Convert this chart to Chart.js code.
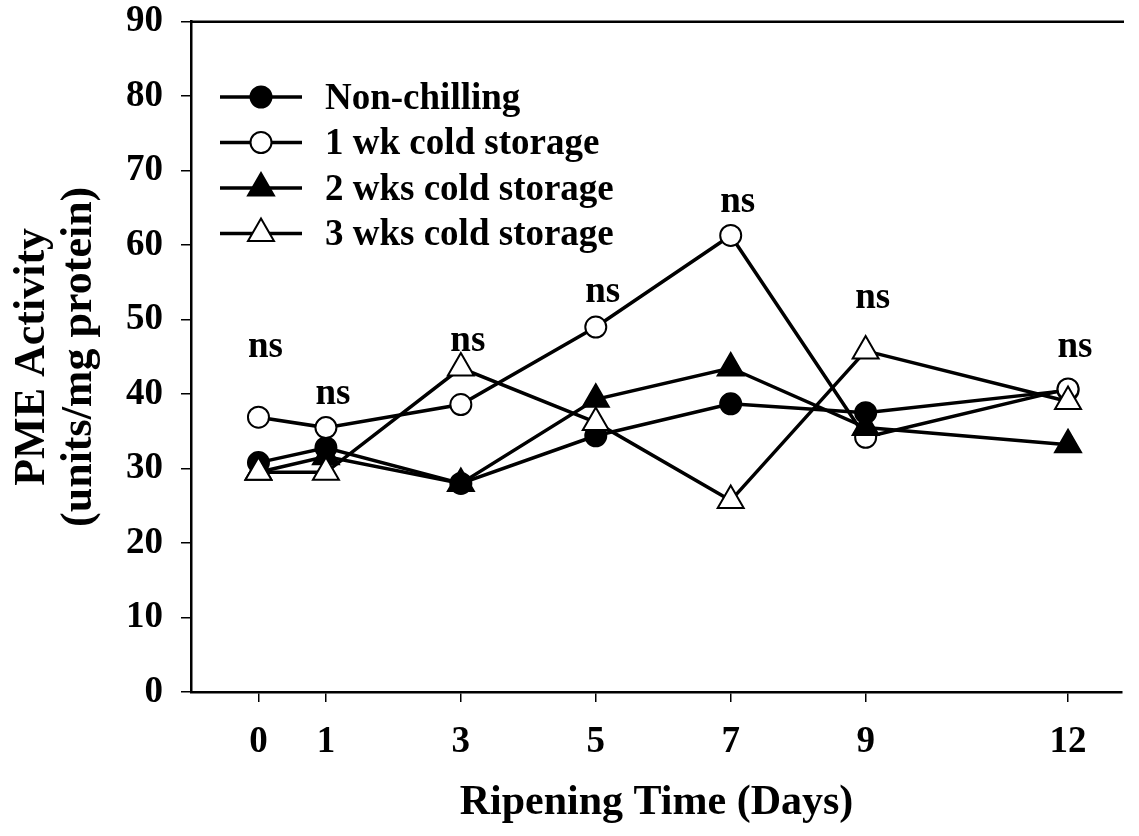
<!DOCTYPE html>
<html>
<head>
<meta charset="utf-8">
<script src="https://cdn.jsdelivr.net/npm/chart.js@4.4.1/dist/chart.umd.min.js"></script>
<style>
  html, body { margin: 0; padding: 0; background: #fff; overflow: hidden; }
  #wrap { width: 1139px; height: 836px; }
</style>
</head>
<body>
<div id="wrap"><canvas id="chart" width="1139" height="836"></canvas></div>
<script>
// ripening days and PME activity per treatment
const days = [0, 1, 3, 5, 7, 9, 12];
const nonChilling = [30.8, 32.8, 28.0, 34.4, 38.7, 37.5, 40.5];
const wk1Cold = [36.9, 35.5, 38.6, 49.0, 61.3, 34.2, 40.7];
const wk2Cold = [29.5, 31.6, 28.0, 39.3, 43.5, 35.5, 33.2];
const wk3Cold = [29.5, 29.5, 43.5, 36.2, 25.7, 45.8, 39.0];
const seriesNames = ['Non-chilling', '1 wk cold storage', '2 wks cold storage', '3 wks cold storage'];
const yTicks = [0, 10, 20, 30, 40, 50, 60, 70, 80, 90];
// height of the "ns" note above each day
const nsLevels = [46.0, 39.8, 46.8, 53.4, 65.5, 52.6, 46.0];

const FONT = '"Liberation Serif", "Times New Roman", serif';

const styles = [
  { pointStyle: 'circle', radius: 10.5, fill: '#000' },
  { pointStyle: 'circle', radius: 10.5, fill: '#fff' },
  { pointStyle: 'triangle', radius: 15, fill: '#000' },
  { pointStyle: 'triangle', radius: 15, fill: '#fff' }
];

function makeSet(label, values, st, order) {
  return {
    label: label,
    data: values.map((v, i) => ({ x: days[i], y: v })),
    borderColor: '#000',
    borderWidth: 3.5,
    pointStyle: st.pointStyle,
    pointRadius: st.radius,
    pointBackgroundColor: st.fill,
    pointBorderColor: '#000',
    pointBorderWidth: 2,
    tension: 0,
    fill: false,
    order: order
  };
}

// frame, legend, "ns" notes and x title
const extras = {
  id: 'extras',
  afterDraw(chart) {
    const { ctx, chartArea: a, scales: { x, y } } = chart;
    ctx.save();
    ctx.strokeStyle = '#000';
    ctx.lineWidth = 2.5;
    ctx.beginPath();
    ctx.moveTo(a.left, a.top);
    ctx.lineTo(a.right + 2, a.top);
    ctx.stroke();

    ctx.fillStyle = '#000';
    ctx.font = 'bold 37px ' + FONT;
    ctx.textAlign = 'center';
    ctx.textBaseline = 'alphabetic';
    days.forEach((d, i) => {
      ctx.fillText('ns', x.getPixelForValue(d) + 7, y.getPixelForValue(nsLevels[i]) + 8);
    });

    // legend
    const lx = 220, rowY = 97, rowGap = 45.5;
    seriesNames.forEach((name, i) => {
      const cy = rowY + i * rowGap;
      ctx.lineWidth = 3.5;
      ctx.beginPath();
      ctx.moveTo(lx, cy);
      ctx.lineTo(lx + 82, cy);
      ctx.stroke();
      const st = styles[i];
      ctx.fillStyle = st.fill;
      ctx.lineWidth = 2;
      Chart.helpers.drawPoint(ctx, { pointStyle: st.pointStyle, radius: st.radius, borderWidth: 2, rotation: 0 }, lx + 41, cy);
      ctx.fillStyle = '#000';
      ctx.textAlign = 'left';
      ctx.textBaseline = 'middle';
      ctx.fillText(name, lx + 105, cy + 2);
    });

    // x axis title, centred under the plot
    ctx.font = 'bold 42px ' + FONT;
    ctx.textAlign = 'center';
    ctx.textBaseline = 'middle';
    ctx.fillText('Ripening Time (Days)', (a.left + a.right) / 2, 803);
    ctx.restore();
  }
};

const axisGrid = { drawOnChartArea: false, drawTicks: true, tickLength: 10, color: '#000', lineWidth: 1.5 };
const axisBorder = { display: true, color: '#000', width: 2.5 };

new Chart(document.getElementById('chart'), {
  type: 'line',
  data: {
    datasets: [
      makeSet(seriesNames[0], nonChilling, styles[0], 3),
      makeSet(seriesNames[1], wk1Cold, styles[1], 2),
      makeSet(seriesNames[2], wk2Cold, styles[2], 1),
      makeSet(seriesNames[3], wk3Cold, styles[3], 0)
    ]
  },
  options: {
    responsive: false,
    animation: false,
    devicePixelRatio: 1,
    layout: { padding: { left: 0, top: 20, right: 0, bottom: 0 } },
    plugins: { legend: { display: false }, tooltip: { enabled: false } },
    scales: {
      x: {
        type: 'linear',
        min: -1,
        max: 12.8,
        afterBuildTicks: s => { s.ticks = days.map(v => ({ value: v })); },
        afterFit: s => { s.height = 144; },
        grid: axisGrid,
        border: axisBorder,
        ticks: { color: '#000', font: { family: FONT, size: 37, weight: 'bold', lineHeight: 1.2 }, padding: 18, maxRotation: 0, autoSkip: false }
      },
      y: {
        min: 0,
        max: 90,
        afterBuildTicks: s => { s.ticks = yTicks.map(v => ({ value: v })); },
        afterFit: s => { s.width = 191; },
        grid: axisGrid,
        border: axisBorder,
        ticks: { color: '#000', font: { family: FONT, size: 37, weight: 'bold', lineHeight: 0.2 }, padding: 18 },
        title: {
          display: true,
          text: ['PME Activity', '(units/mg protein)'],
          color: '#000',
          font: { family: FONT, size: 44, weight: 'bold', lineHeight: 1.05 },
          padding: { top: 10, bottom: 0 }
        }
      }
    }
  },
  plugins: [extras]
});
</script>
</body>
</html>
